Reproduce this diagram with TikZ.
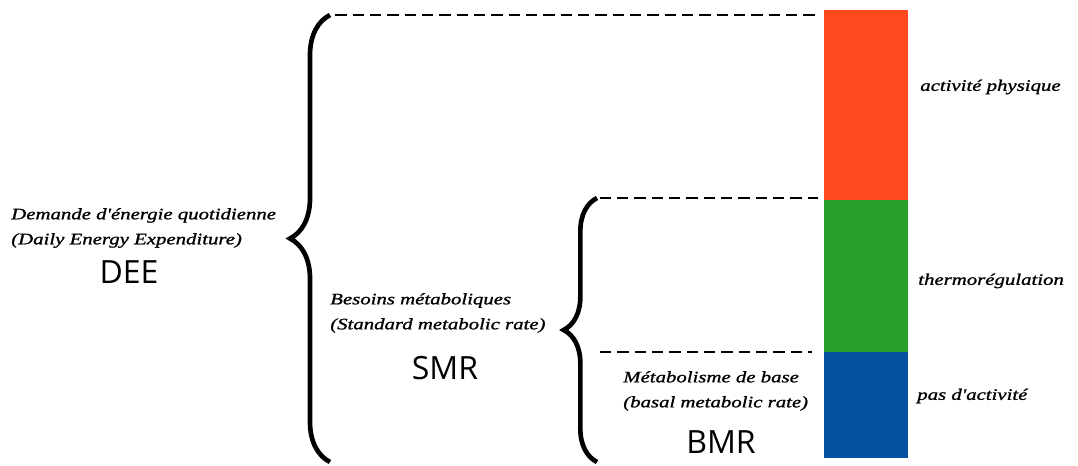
\documentclass[tikz,border=0pt]{standalone}
\usepackage{fontspec}
\setsansfont{Open Sans}
\newfontfamily\labelit{Liberation Serif}[FakeStretch=1.3,FakeBold=1.2]
\usetikzlibrary{positioning,decorations.pathreplacing}

\definecolor{physred}{RGB}{255,74,30}
\definecolor{thermogreen}{RGB}{40,160,42}
\definecolor{restblue}{RGB}{5,80,160}

\tikzset{
  seg/.style={minimum width=63pt,inner sep=0pt,outer sep=0pt},
  lbl/.style={font=\labelit\itshape\fontsize{12}{18.75}\selectfont,inner sep=0pt,align=left},
  acr/.style={font=\sffamily\fontsize{24}{24}\selectfont,inner sep=0pt},
  guideline/.style={line width=1.5pt,dash pattern=on 8.5pt off 4.5pt},
  curly/.style={line width=3.5pt,decorate,decoration={brace,amplitude=#1}}
}

\begin{document}
\begin{tikzpicture}[x=0.75pt,y=-0.75pt]
  \useasboundingbox (0,0) rectangle (1078,466);
  % the energy bar
  \node[seg,fill=physred,minimum height=142.5pt,anchor=north west] (phys) at (824,10) {};
  \node[seg,fill=thermogreen,minimum height=114pt,below=0pt of phys] (thermo) {};
  \node[seg,fill=restblue,minimum height=79.5pt,below=0pt of thermo] (rest) {};
  \node[lbl,anchor=west] (lphys) at (920,87) {activité physique};
  \node[lbl,anchor=west] (lthermo) at (918,281) {thermorégulation};
  \node[lbl,anchor=west] (lrest) at (917,396) {pas d'activité};

  % braces and guide lines
  \coordinate (deetop) at (330,15);
  \coordinate (deebot) at (330,462);
  \coordinate (smrtop) at (597,198);
  \coordinate (smrbot) at (597,462);
  \coordinate (bmrtop) at (600,352);
  \draw[curly=30pt] (deebot) -- (deetop);
  \draw[curly=25pt] (smrbot) -- (smrtop);
  \draw[guideline,shorten <=4pt,shorten >=4.5pt] (deetop) -- (deetop -| phys.west);
  \draw[guideline,shorten <=2pt,shorten >=4.5pt] (smrtop) -- (smrtop -| thermo.west);
  \draw[guideline,shorten >=9pt] (bmrtop) -- (bmrtop -| rest.west);

  % names
  \node[lbl,anchor=west] (dee) at (11,228) {Demande d'énergie quotidienne\\(Daily Energy Expenditure)};
  \node[acr] (deeabbr) at (129,272) {DEE};
  \node[lbl,anchor=west] (smr) at (330,313) {Besoins métaboliques\\(Standard metabolic rate)};
  \node[acr] (smrabbr) at (445,368) {SMR};
  \node[lbl,anchor=west] (bmr) at (623,391) {Métabolisme de base\\(basal metabolic rate)};
  \node[acr] (bmrabbr) at (721,442) {BMR};
\end{tikzpicture}
\end{document}
